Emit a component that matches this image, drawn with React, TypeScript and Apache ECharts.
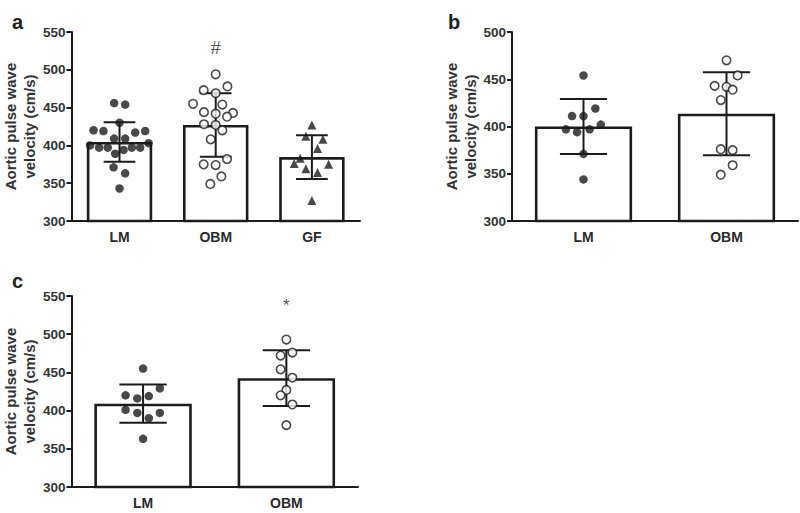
import React, { useEffect, useRef } from "react";
import * as echarts from "echarts";

// ---------- data ----------
const aCategories = ["LM", "OBM", "GF"];
const aMeans = [404.5, 427, 384.5];
const aSD = [26, 42, 29];
const aLMValues = [456, 454, 430, 420, 419, 417, 419, 409, 409, 400, 403, 397, 397, 397, 397, 394, 389, 371, 363, 343];
const aLMJitter = [-0.056, 0.059, 0, -0.27, -0.167, 0.163, 0.267, -0.056, 0.059, -0.306, 0.302, -0.212, -0.122, 0.128, 0.215, 0.042, -0.045, -0.062, 0.059, 0];
const aOBMValues = [494, 473, 478, 469, 455, 454, 444, 442, 443, 438, 428, 427, 420, 408, 375, 374, 382, 359, 349];
const aOBMJitter = [0, -0.125, 0.122, 0, -0.236, 0.069, -0.122, 0, 0.18, 0.118, -0.122, 0, 0.069, -0.052, -0.125, 0, 0.118, 0.059, -0.056];
const aGFValues = [427, 412, 408, 396, 383, 376, 375, 369, 364, 327];
const aGFJitter = [0, -0.0625, 0.115, 0.059, -0.122, -0.184, 0.174, -0.0625, 0.059, 0];
const aYTicks = { min: 300, max: 550, interval: 50 };

const bCategories = ["LM", "OBM"];
const bMeans = [400, 413.5];
const bSD = [29, 44];
const bLMValues = [454, 419, 411, 411, 402, 397, 394, 397, 371, 344];
const bLMJitter = [0, 0.083, -0.08, 0, 0.121, -0.123, -0.045, 0.043, 0, 0];
const bOBMValues = [470, 454, 443, 442, 439, 428, 376, 375, 359, 349];
const bOBMJitter = [0, 0.078, -0.083, 0, 0.043, -0.04, -0.04, 0.043, 0.043, -0.04];
const bYTicks = { min: 300, max: 500, interval: 50 };

const cCategories = ["LM", "OBM"];
const cMeans = [409, 442.5];
const cSD = [25, 36.5];
const cLMValues = [455, 429, 420, 416, 419, 401, 397, 397, 390, 363];
const cLMJitter = [0, 0.117, -0.122, -0.04, 0.04, -0.122, -0.04, 0.117, 0.04, 0];
const cOBMValues = [493, 472, 476, 454, 443, 427, 420, 408, 381];
const cOBMJitter = [0, -0.04, 0.042, -0.04, 0.042, 0, -0.04, 0.042, 0];
const cYTicks = { min: 300, max: 550, interval: 50 };

const yTitle = "Aortic pulse wave\nvelocity (cm/s)";
const annotationA = { category: 1, value: 529, text: "#" };
const annotationC = { category: 1, value: 537, text: "*" };

// ---------- styles ----------
const FONT = "'Liberation Sans', Arial, Helvetica, sans-serif";
const INK = "#1c1c1c";

function pts(values: number[], jitter: number[], idx: number) {
  return values.map((v, i) => [idx + jitter[i], v]);
}

function errData(means: number[], sds: number[]) {
  return means.map((m, i) => [i, m - sds[i], m + sds[i]]);
}

const errorRender = (params: any, api: any) => {
  const x = api.value(0);
  const lo = api.coord([x, api.value(1)]);
  const hi = api.coord([x, api.value(2)]);
  const half = api.size([1, 0])[0] * 0.165;
  const cx = hi[0];
  return {
    type: "polyline",
    shape: {
      points: [
        [cx - half, hi[1]],
        [cx + half, hi[1]],
        [cx, hi[1]],
        [cx, lo[1]],
        [cx - half, lo[1]],
        [cx + half, lo[1]],
      ],
    },
    style: { stroke: INK, lineWidth: 2, fill: null },
  };
};

export default function App() {
  const ref = useRef<HTMLDivElement>(null);
  useEffect(() => {
    if (!ref.current) return;
    const chart = echarts.init(ref.current, null, { renderer: "svg" });

    const grids = [
      { left: 71, right: 440, top: 32, bottom: 292 },
      { left: 512, right: 2, top: 32, bottom: 292 },
      { left: 70, right: 442, top: 296, bottom: 26 },
    ];
    const cats = [aCategories, bCategories, cCategories];
    const ticks = [aYTicks, bYTicks, cYTicks];

    const xAxis: any[] = [];
    const yAxis: any[] = [];
    cats.forEach((c, g) => {
      xAxis.push({
        type: "category",
        gridIndex: g,
        data: c,
        axisLine: { onZero: false, lineStyle: { color: INK, width: 2 } },
        axisTick: { alignWithLabel: true, length: 4, lineStyle: { color: INK, width: 2 } },
        axisLabel: { margin: 9, fontFamily: FONT, fontSize: 14, fontWeight: "bold", color: "#2a2a2a" },
        splitLine: { show: false },
      });
      xAxis.push({
        type: "value",
        gridIndex: g,
        min: -0.5,
        max: c.length - 0.5,
        show: false,
        axisLine: { show: false, onZero: false },
        splitLine: { show: false },
      });
      yAxis.push({
        type: "value",
        gridIndex: g,
        min: ticks[g].min,
        max: ticks[g].max,
        interval: ticks[g].interval,
        name: yTitle,
        nameLocation: "middle",
        nameRotate: 90,
        nameGap: 31,
        nameTextStyle: { fontFamily: FONT, fontSize: 15, fontWeight: "bold", color: "#333", lineHeight: 19 },
        axisLine: { show: true, onZero: false, lineStyle: { color: INK, width: 2 } },
        axisTick: { show: true, length: 5, lineStyle: { color: INK, width: 2 } },
        axisLabel: { margin: 6, fontFamily: FONT, fontSize: 13.5, fontWeight: "bold", color: "#333" },
        splitLine: { show: false },
      });
    });

    const bar = (g: number, means: number[]) => ({
      type: "bar",
      xAxisIndex: g * 2,
      yAxisIndex: g,
      data: means,
      barWidth: "68%",
      clip: true,
      itemStyle: { color: "#fff", borderColor: INK, borderWidth: 2.6 },
      z: 1,
    });
    const err = (g: number, means: number[], sds: number[]) => ({
      type: "custom",
      xAxisIndex: g * 2,
      yAxisIndex: g,
      data: errData(means, sds),
      encode: { x: 0, y: [1, 2] },
      renderItem: errorRender,
      z: 2,
    });
    const scat = (g: number, data: number[][], symbol: string, filled: boolean, size = 8.5) => ({
      type: "scatter",
      xAxisIndex: g * 2 + 1,
      yAxisIndex: g,
      data,
      symbol,
      symbolSize: size,
      itemStyle: filled
        ? { color: INK, borderWidth: 0 }
        : { color: "#fff", borderColor: INK, borderWidth: 1.6 },
      z: 3,
    });
    const annot = (g: number, a: { category: number; value: number; text: string }, size: number) => ({
      type: "scatter",
      xAxisIndex: g * 2 + 1,
      yAxisIndex: g,
      data: [[a.category, a.value]],
      symbol: "circle",
      symbolSize: 1,
      itemStyle: { color: "rgba(0,0,0,0)" },
      label: {
        show: true,
        position: "inside",
        formatter: a.text,
        fontFamily: FONT,
        fontSize: size,
        color: "#222",
      },
      z: 4,
    });

    const option: any = {
      animation: false,
      backgroundColor: "#fff",
      title: [
        { text: "a", left: 7, top: 7, textStyle: { fontFamily: FONT, fontSize: 20, fontWeight: "bold", color: "#222" } },
        { text: "b", left: 443, top: 7, textStyle: { fontFamily: FONT, fontSize: 20, fontWeight: "bold", color: "#222" } },
        { text: "c", left: 7, top: 266, textStyle: { fontFamily: FONT, fontSize: 20, fontWeight: "bold", color: "#222" } },
      ],
      grid: grids,
      xAxis,
      yAxis,
      series: [
        bar(0, aMeans),
        err(0, aMeans, aSD),
        scat(0, pts(aLMValues, aLMJitter, 0), "circle", true),
        scat(0, pts(aOBMValues, aOBMJitter, 1), "circle", false),
        scat(0, pts(aGFValues, aGFJitter, 2), "triangle", true, 9),
        annot(0, annotationA, 18),

        bar(1, bMeans),
        err(1, bMeans, bSD),
        scat(1, pts(bLMValues, bLMJitter, 0), "circle", true),
        scat(1, pts(bOBMValues, bOBMJitter, 1), "circle", false),

        bar(2, cMeans),
        err(2, cMeans, cSD),
        scat(2, pts(cLMValues, cLMJitter, 0), "circle", true),
        scat(2, pts(cOBMValues, cOBMJitter, 1), "circle", false),
        annot(2, annotationC, 17),
      ],
    };
    chart.setOption(option);
    return () => chart.dispose();
  }, []);
  return (
    <div
      ref={ref}
      style={{ position: "absolute", left: 0, top: 0, width: 800, height: 513 }}
    />
  );
}
